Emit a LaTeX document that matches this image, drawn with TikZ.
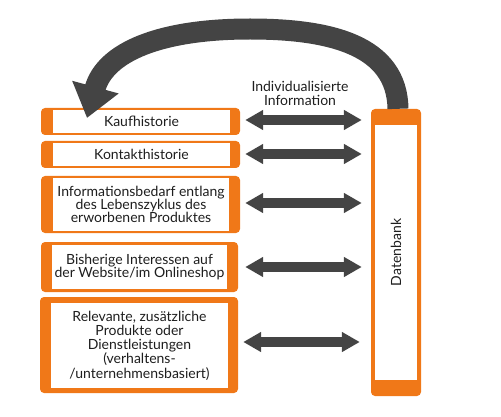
\documentclass[tikz,border=0pt]{standalone}
\usepackage{fontspec}
\setmainfont{Lato}
\usetikzlibrary{arrows.meta}
\definecolor{orng}{RGB}{240,120,24}
\definecolor{darr}{RGB}{68,68,68}
\definecolor{txt}{RGB}{30,30,30}
\begin{document}
\begin{tikzpicture}[x=1pt,y=-1pt,
  outerbox/.style={rectangle,rounded corners=4pt,fill=orng,draw=none,inner sep=0pt},
  innerbox/.style={rectangle,fill=white,draw=none,inner sep=0pt,align=center,text=txt,
    font=\fontsize{14}{13.3}\selectfont},
  dblarrow/.style={darr,line width=10pt,{Triangle[width=19pt,length=18pt]}-{Triangle[width=19pt,length=18pt]}},
  bigarrow/.style={darr,line width=21pt,-{Triangle[width=46pt,length=32pt]}},
  lbl/.style={text=txt,align=center,font=\fontsize{14}{14}\selectfont,inner sep=0pt}]
\useasboundingbox (0,0) rectangle (501,417);
% left boxes
\node[outerbox,minimum width=199pt,minimum height=27pt] (b1) at (140.5,121.5) {};
\node[innerbox,minimum width=177pt,minimum height=23pt] (b1t) at (141.5,121.5) {Kaufhistorie};
\node[outerbox,minimum width=199pt,minimum height=27pt] (b2) at (140.5,154.5) {};
\node[innerbox,minimum width=177pt,minimum height=23pt] (b2t) at (141.5,154.5) {Kontakthistorie};
\node[outerbox,minimum width=199pt,minimum height=57pt] (b3) at (140.5,204.5) {};
\node[innerbox,minimum width=176pt,minimum height=53pt] (b3t) at (141,204.5) {Informationsbedarf entlang\\des Lebenszyklus des\\erworbenen Produktes};
\node[outerbox,minimum width=197pt,minimum height=50pt] (b4) at (139.5,267) {};
\node[innerbox,minimum width=175pt,minimum height=44pt] (b4t) at (139.5,267) {Bisherige Interessen auf\\der Website/im Onlineshop};
\node[outerbox,minimum width=198pt,minimum height=96pt] (b5) at (139,345) {};
\node[innerbox,minimum width=177pt,minimum height=85pt,font=\fontsize{14}{14.2}\selectfont] (b5t) at (139.5,345.5) {Relevante, zusätzliche\\Produkte oder\\Dienstleistungen\\(verhaltens-\\/unternehmensbasiert)};
% database
\node[outerbox,minimum width=50pt,minimum height=287pt] (db) at (396,252.5) {};
\node[innerbox,minimum width=42pt,minimum height=255pt] (dbt) at (396,252.5) {};
\node[lbl,rotate=90] (dbl) at (dbt.center) {Datenbank};
% label
\node[lbl] (info) at (300,93) {Individualisierte\\Information};
% double arrows
\draw[dblarrow] ([xshift=5pt,yshift=1.5pt]b1.east) -- ([xshift=-9pt,yshift=1.5pt]db.west |- b1.east);
\draw[dblarrow] ([xshift=5pt,yshift=0.5pt]b2.east) -- ([xshift=-9pt,yshift=0.5pt]db.west |- b2.east);
\draw[dblarrow] ([xshift=5pt,yshift=1.5pt]b3.east) -- ([xshift=-9pt,yshift=1.5pt]db.west |- b3.east);
\draw[dblarrow] ([xshift=7pt]b4.east) -- ([xshift=-9pt]db.west |- b4.east);
\draw[dblarrow] ([xshift=5pt,yshift=3pt]b5.east) -- ([xshift=-11pt,yshift=3pt]db.west |- b5.east);
% big curved arrow
\coordinate (tip) at (87,118);
\draw[bigarrow] ([xshift=2pt]db.north) .. controls (397,45) and (330,29) .. (250,29)
  .. controls (160,29) and (105,52) .. (tip);
\end{tikzpicture}
\end{document}
